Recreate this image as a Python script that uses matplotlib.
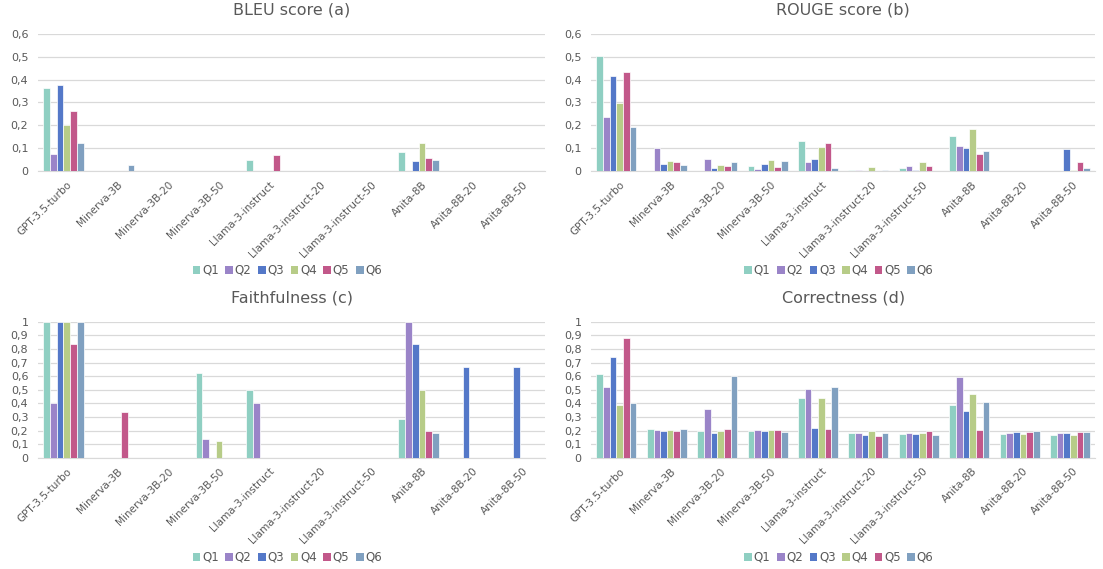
import matplotlib

matplotlib.use("Agg")
import matplotlib.pyplot as plt
import numpy as np
from matplotlib.patches import Patch
from matplotlib.ticker import FuncFormatter

MODELS = [
    "GPT-3.5-turbo",
    "Minerva-3B",
    "Minerva-3B-20",
    "Minerva-3B-50",
    "Llama-3-instruct",
    "Llama-3-instruct-20",
    "Llama-3-instruct-50",
    "Anita-8B",
    "Anita-8B-20",
    "Anita-8B-50",
]
QUESTIONS = ["Q1", "Q2", "Q3", "Q4", "Q5", "Q6"]

# one row per model, columns Q1..Q6
bleu = [
    [0.364, 0.075, 0.376, 0.202, 0.262, 0.123],
    [0, 0, 0, 0, 0, 0.025],
    [0, 0, 0, 0, 0, 0],
    [0, 0, 0, 0, 0, 0],
    [0.047, 0, 0, 0, 0.069, 0],
    [0, 0, 0, 0, 0, 0],
    [0, 0, 0, 0, 0, 0],
    [0.083, 0, 0.045, 0.123, 0.057, 0.048],
    [0, 0, 0, 0, 0, 0],
    [0, 0, 0, 0, 0, 0],
]
rouge = [
    [0.505, 0.237, 0.414, 0.296, 0.433, 0.193],
    [0, 0.101, 0.029, 0.044, 0.038, 0.026],
    [0, 0.053, 0.013, 0.025, 0.020, 0.040],
    [0.020, 0.010, 0.031, 0.050, 0.018, 0.042],
    [0.132, 0.041, 0.051, 0.107, 0.123, 0.015],
    [0.004, 0.004, 0, 0.018, 0, 0.004],
    [0.015, 0.023, 0.006, 0.040, 0.022, 0],
    [0.154, 0.108, 0.102, 0.184, 0.075, 0.088],
    [0, 0, 0, 0, 0, 0],
    [0, 0, 0.098, 0.004, 0.040, 0.013],
]
faithfulness = [
    [1.0, 0.4, 1.0, 1.0, 0.833, 1.0],
    [0, 0, 0, 0, 0.333, 0],
    [0, 0, 0, 0, 0, 0],
    [0.625, 0.14, 0, 0.125, 0, 0],
    [0.5, 0.4, 0, 0, 0, 0],
    [0, 0, 0, 0, 0, 0],
    [0, 0, 0, 0, 0, 0],
    [0.284, 1.0, 0.833, 0.5, 0.2, 0.18],
    [0, 0, 0.667, 0, 0, 0],
    [0, 0, 0.667, 0, 0, 0],
]
correctness = [
    [0.615, 0.522, 0.740, 0.387, 0.880, 0.400],
    [0.211, 0.206, 0.194, 0.203, 0.199, 0.211],
    [0.199, 0.358, 0.184, 0.199, 0.208, 0.600],
    [0.196, 0.201, 0.196, 0.203, 0.203, 0.191],
    [0.436, 0.502, 0.218, 0.439, 0.211, 0.520],
    [0.181, 0.179, 0.164, 0.194, 0.162, 0.181],
    [0.172, 0.181, 0.176, 0.179, 0.194, 0.167],
    [0.387, 0.591, 0.346, 0.471, 0.201, 0.409],
    [0.176, 0.181, 0.186, 0.172, 0.186, 0.196],
    [0.167, 0.179, 0.181, 0.164, 0.186, 0.189],
]

COLORS = ["#8fcfc2", "#9a84c8", "#5478c8", "#b7cc88", "#c2588a", "#80a0c0"]
TEXT = "#595959"
GRID = "#d9d9d9"

plt.rcParams["font.family"] = ["DejaVu Sans"]


def comma(value, _pos):
    if abs(value) < 1e-9:
        return "0"
    if abs(value - round(value)) < 1e-9:
        return f"{int(round(value))}"
    return f"{value:.1f}".replace(".", ",")


def draw_panel(axis, values, title, top, step):
    data = np.array(values, dtype=float)
    x_values = np.arange(len(MODELS))
    bar_width = 0.132
    for index, question in enumerate(QUESTIONS):
        offset = (index - 2.5) * bar_width
        axis.bar(
            x_values + offset,
            data[:, index],
            width=bar_width,
            color=COLORS[index],
            edgecolor="white",
            linewidth=0.5,
            label=question,
            zorder=3,
        )
    axis.set_xlim(-0.5, len(MODELS) - 0.5)
    axis.set_ylim(0, top)
    axis.set_yticks(np.arange(0, top + step / 2, step))
    axis.yaxis.set_major_formatter(FuncFormatter(comma))
    axis.grid(axis="y", color=GRID, linewidth=0.9, zorder=0)
    for side in ("top", "right", "left"):
        axis.spines[side].set_visible(False)
    axis.spines["bottom"].set_color(GRID)
    axis.tick_params(axis="y", length=0, colors=TEXT, labelsize=8, pad=7)
    axis.tick_params(axis="x", length=0, colors=TEXT, labelsize=7.5, pad=6)
    axis.set_xticks(x_values + 0.06)
    axis.set_xticklabels(MODELS, rotation=45, ha="right", rotation_mode="anchor")
    axis.set_title(title, fontsize=11.5, color=TEXT, pad=14)


figure = plt.figure(figsize=(11.03, 5.69), dpi=100, facecolor="white")
panels = [
    ([0.0345, 0.6995, 0.46, 0.2408], bleu, "BLEU score (a)", 0.6, 0.1, 0.525),
    ([0.536, 0.6995, 0.457, 0.2408], rouge, "ROUGE score (b)", 0.6, 0.1, 0.525),
    ([0.0345, 0.1956, 0.46, 0.239], faithfulness, "Faithfulness (c)", 1.0, 0.1, 0.0205),
    ([0.536, 0.1956, 0.457, 0.239], correctness, "Correctness (d)", 1.0, 0.1, 0.0205),
]
for rect, values, title, top, step, legend_y in panels:
    axis = figure.add_axes(rect)
    draw_panel(axis, values, title, top, step)
    handles = [Patch(facecolor=color, edgecolor="none") for color in COLORS]
    figure.legend(
        handles,
        QUESTIONS,
        loc="center",
        bbox_to_anchor=(rect[0] + rect[2] / 2 - 0.004, legend_y),
        ncol=6,
        frameon=False,
        fontsize=8.5,
        handlelength=0.65,
        handleheight=0.65,
        handletextpad=0.15,
        columnspacing=0.55,
        labelcolor=TEXT,
    )

figure.savefig("out.png", dpi=100, facecolor="white")
plt.close(figure)
